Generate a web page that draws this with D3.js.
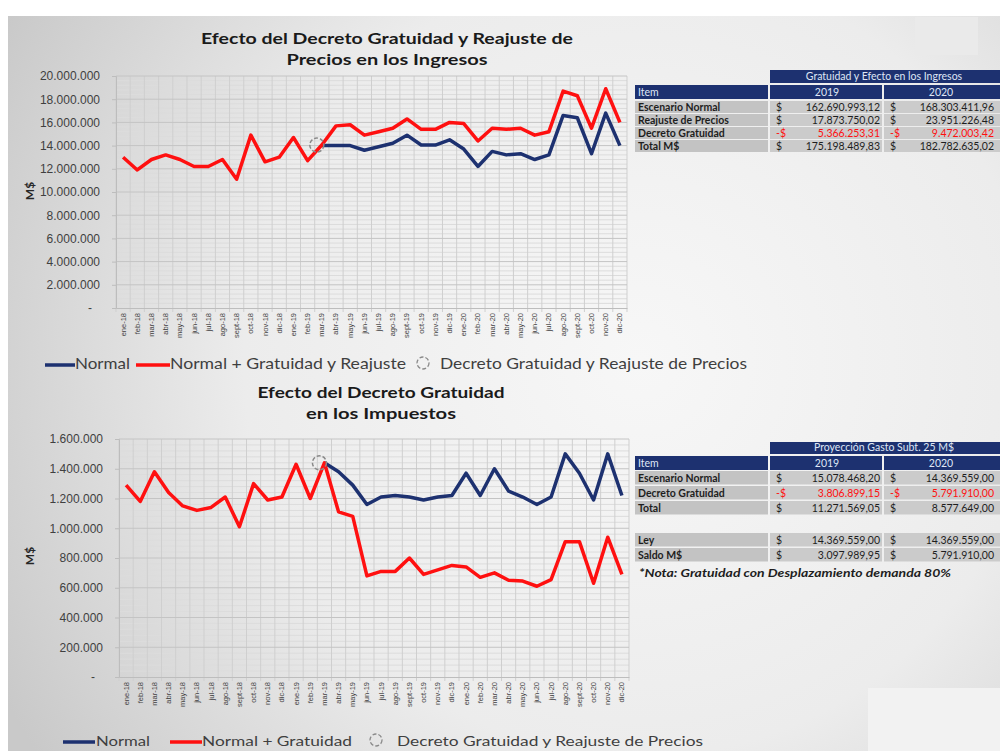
<!DOCTYPE html>
<html>
<head>
<meta charset="utf-8">
<script src="https://cdn.jsdelivr.net/npm/d3@7"></script>
<style>
  body { margin: 0; background: #fff; }
  svg { display: block; font-family: Lato, "Liberation Sans", sans-serif; }
</style>
</head>
<body>
<svg width="1000" height="751"></svg>
<script>
"use strict";
// months shown on both charts (Excel spanish short names)
const MONTHS = ["ene-18","feb-18","mar-18","abr-18","may-18","jun-18","jul-18","ago-18","sept-18","oct-18","nov-18","dic-18",
                "ene-19","feb-19","mar-19","abr-19","may-19","jun-19","jul-19","ago-19","sept-19","oct-19","nov-19","dic-19",
                "ene-20","feb-20","mar-20","abr-20","may-20","jun-20","jul-20","ago-20","sept-20","oct-20","nov-20","dic-20"];
const DECREE_MONTH = "mar-19";

// Ingresos, millions of $ (blue "Normal" only appears from mar-19, it sits under the red before)
const ingresosGratuidad = [13.0, 11.9, 12.8, 13.2, 12.8, 12.2, 12.2, 12.8, 11.1, 14.9, 12.6, 13.0,
                           14.7, 12.7, 14.05, 15.7, 15.8, 14.9, 15.2, 15.5, 16.3, 15.4, 15.4, 16.0,
                           15.9, 14.4, 15.5, 15.4, 15.5, 14.9, 15.2, 18.7, 18.3, 15.5, 18.9, 16.0];
const ingresosNormal = [null, null, null, null, null, null, null, null, null, null, null, null,
                        null, null, 14.0, 14.0, 14.0, 13.6, 13.9, 14.2, 14.9, 14.05, 14.05, 14.5,
                        13.7, 12.2, 13.5, 13.2, 13.3, 12.8, 13.2, 16.6, 16.4, 13.3, 16.8, 14.0];
const ingresosTicks = [0, 2e6, 4e6, 6e6, 8e6, 10e6, 12e6, 14e6, 16e6, 18e6, 20e6];

// Impuestos, thousands of $
const impuestosGratuidad = [1290, 1180, 1380, 1240, 1150, 1120, 1140, 1210, 1010, 1300, 1190, 1210,
                            1430, 1200, 1440, 1110, 1080, 680, 710, 710, 800, 690, 720, 750,
                            740, 670, 700, 650, 645, 610, 655, 910, 910, 630, 940, 690];
const impuestosNormal = [null, null, null, null, null, null, null, null, null, null, null, null,
                         null, null, 1440, 1380, 1290, 1160, 1210, 1220, 1210, 1190, 1210, 1220,
                         1370, 1220, 1400, 1250, 1210, 1160, 1210, 1500, 1370, 1190, 1500, 1220];
const impuestosTicks = [0, 2e5, 4e5, 6e5, 8e5, 10e5, 12e5, 14e5, 16e5];

// tables
const ingresosItems = ["Escenario Normal", "Reajuste de Precios", "Decreto Gratuidad", "Total M$"];
const ingresos2019 = [162690993.12, 17873750.02, -5366253.31, 175198489.83];
const ingresos2020 = [168303411.96, 23951226.48, -9472003.42, 182782635.02];
const gastoItems = ["Escenario Normal", "Decreto Gratuidad", "Total", "Ley", "Saldo M$"];
const gasto2019 = [15078468.20, -3806899.15, 11271569.05, 14369559.00, 3097989.95];
const gasto2020 = [14369559.00, -5791910.00, 8577649.00, 14369559.00, 5791910.00];

const NAVY = "#1d3170";
const RED = "#ff1010";
const TXT = "#3f3f3f";

const loc = d3.formatLocale({decimal: ",", thousands: ".", grouping: [3], currency: ["$", ""]});
const fmtMoney = loc.format(",.2f");
const fmtAxis = loc.format(",.0f");

const svg = d3.select("svg");

// slide background: gray radial gradient + white border of the photo
const defs = svg.append("defs");
const grad = defs.append("radialGradient").attr("id", "bg")
    .attr("gradientUnits", "userSpaceOnUse")
    .attr("cx", 640).attr("cy", 360).attr("r", 720);
grad.append("stop").attr("offset", 0).attr("stop-color", "#f7f7f7");
grad.append("stop").attr("offset", 0.55).attr("stop-color", "#ececec");
grad.append("stop").attr("offset", 1).attr("stop-color", "#c9c9c9");
svg.append("rect").attr("width", 1000).attr("height", 751).attr("fill", "#fff");
svg.append("rect").attr("x", 8).attr("y", 16).attr("width", 992).attr("height", 735).attr("fill", "url(#bg)");
svg.append("rect").attr("x", 915).attr("y", 17).attr("width", 63).attr("height", 38).attr("fill", "#eaeaea");
svg.append("rect").attr("x", 868).attr("y", 688).attr("width", 132).attr("height", 63).attr("fill", "#f2f2f2");

function drawChart(c) {
    const g = svg.append("g");
    const x = d3.scaleBand().domain(MONTHS).range([c.left, c.right]);
    const y = d3.scaleLinear().domain([0, c.max]).range([c.bottom, c.top]);
    const step = c.ticks[1] - c.ticks[0];

    // minor horizontal grid
    const minor = d3.range(0, c.max + 1, step / 5).filter(v => !c.ticks.includes(v));
    g.append("g").selectAll("line").data(minor).join("line")
        .attr("x1", c.left).attr("x2", c.right)
        .attr("y1", d => y(d)).attr("y2", d => y(d))
        .attr("stroke", "#dcdcdc").attr("stroke-width", 1);
    // vertical grid at category boundaries
    const bounds = MONTHS.map(m => x(m)).concat([c.right]);
    g.append("g").selectAll("line").data(bounds).join("line")
        .attr("x1", d => d).attr("x2", d => d)
        .attr("y1", c.top).attr("y2", c.bottom + 4)
        .attr("stroke", "#cfcfcf").attr("stroke-width", 1);
    // major horizontal grid
    g.append("g").selectAll("line").data(c.ticks.slice(1)).join("line")
        .attr("x1", c.left).attr("x2", c.right)
        .attr("y1", d => y(d)).attr("y2", d => y(d))
        .attr("stroke", "#c4c4c4").attr("stroke-width", 1);

    // y axis
    const yAxis = g.append("g").attr("transform", `translate(${c.left},0)`)
        .call(d3.axisLeft(y).tickValues(c.ticks).tickSize(4).tickPadding(12)
            .tickFormat(d => d === 0 ? "-" : fmtAxis(d)));
    yAxis.select(".domain").attr("stroke", "#bdbdbd");
    yAxis.selectAll(".tick line").attr("stroke", "#bdbdbd");
    yAxis.selectAll("text").attr("fill", TXT).attr("font-size", 12)
        .attr("dx", d => d === 0 ? -8 : 0);

    // x axis
    const xAxis = g.append("g").attr("transform", `translate(0,${c.bottom})`)
        .call(d3.axisBottom(x).tickSize(0));
    xAxis.select(".domain").attr("stroke", "#bdbdbd");
    xAxis.selectAll("text")
        .attr("transform", "rotate(-90)")
        .attr("text-anchor", "end")
        .attr("x", -5).attr("y", 0).attr("dy", "0.33em")
        .attr("font-size", 7.5).attr("fill", TXT);

    // y title
    g.append("text")
        .attr("transform", `translate(${c.ytitleX},${c.ytitleY}) rotate(-90)`)
        .attr("text-anchor", "middle").attr("font-weight", "bold")
        .attr("font-size", 12).attr("fill", "#262626")
        .text("M$");

    // chart title
    g.selectAll(".title").data(c.title).join("text")
        .attr("x", c.titleX).attr("y", (d, i) => c.titleY + i * 21)
        .attr("text-anchor", "middle").attr("font-weight", "bold")
        .attr("font-size", 15.5).attr("fill", "#1a1a1a")
        .attr("textLength", (d, i) => c.titleLen[i]).attr("lengthAdjust", "spacingAndGlyphs")
        .text(d => d);

    const line = d3.line()
        .defined(d => d != null)
        .x((d, i) => x(MONTHS[i]) + x.bandwidth() / 2)
        .y(d => y(d * c.unit));
    g.append("path").datum(c.normal)
        .attr("d", line).attr("fill", "none")
        .attr("stroke", NAVY).attr("stroke-width", 3.5).attr("stroke-linejoin", "round");
    g.append("path").datum(c.gratuidad)
        .attr("d", line).attr("fill", "none")
        .attr("stroke", RED).attr("stroke-width", 3.5).attr("stroke-linejoin", "round");

    // decree marker
    const di = MONTHS.indexOf(DECREE_MONTH);
    g.append("circle")
        .attr("cx", x(DECREE_MONTH) + x.bandwidth() / 2 - 5)
        .attr("cy", y(c.gratuidad[di] * c.unit))
        .attr("r", 7).attr("fill", "none")
        .attr("stroke", "#8a8a8a").attr("stroke-width", 1.5).attr("stroke-dasharray", "4,2");

    // legend
    const lg = g.append("g").attr("transform", `translate(0,${c.legendY})`);
    c.legend.forEach(it => {
        if (it.kind === "line") {
            lg.append("line").attr("x1", it.x).attr("x2", it.x + it.w).attr("y1", -4).attr("y2", -4)
                .attr("stroke", it.color).attr("stroke-width", 3.5);
        } else {
            lg.append("circle").attr("cx", it.x + it.w / 2).attr("cy", -6).attr("r", 6)
                .attr("fill", "none").attr("stroke", "#8a8a8a").attr("stroke-width", 1.3)
                .attr("stroke-dasharray", "4,2");
        }
        lg.append("text").attr("x", it.tx).attr("y", 0)
            .attr("font-size", c.legendSize).attr("fill", TXT)
            .attr("textLength", it.tlen).attr("lengthAdjust", "spacingAndGlyphs")
            .text(it.label);
    });
}

function drawTable(t) {
    const g = svg.append("g").attr("font-size", 10.5);
    const cols = [t.col1, t.col2];
    // header rows
    g.append("rect").attr("x", t.col1).attr("y", t.h1y).attr("width", 1000 - t.col1).attr("height", t.h1h).attr("fill", NAVY);
    g.append("text").attr("x", (t.col1 + t.col2 + t.colW) / 2).attr("y", t.h1y + t.h1h - 3)
        .attr("text-anchor", "middle").attr("fill", "#dfe6f5").text(t.title);
    g.append("rect").attr("x", t.left).attr("y", t.h2y).attr("width", t.labelW).attr("height", t.h2h).attr("fill", NAVY);
    g.append("text").attr("x", t.left + 3).attr("y", t.h2y + t.h2h - 3).attr("fill", "#dfe6f5").text("Item");
    ["2019", "2020"].forEach((yr, k) => {
        g.append("rect").attr("x", cols[k]).attr("y", t.h2y).attr("width", k ? 1000 - cols[k] : t.colW - 2).attr("height", t.h2h).attr("fill", NAVY);
        g.append("text").attr("x", cols[k] + t.colW / 2).attr("y", t.h2y + t.h2h - 3)
            .attr("text-anchor", "middle").attr("fill", "#dfe6f5").text(yr);
    });
    // body rows
    t.items.forEach((item, i) => {
        const ry = t.rowY[i];
        g.append("rect").attr("x", t.left).attr("y", ry).attr("width", t.labelW).attr("height", t.rowH - 1).attr("fill", "#c3c3c3");
        g.append("text").attr("x", t.left + 3).attr("y", ry + t.rowH - 3.5)
            .attr("font-weight", "bold").attr("fill", "#1e1e1e").text(item);
        [t.v2019[i], t.v2020[i]].forEach((v, k) => {
            const neg = v < 0;
            g.append("rect").attr("x", cols[k]).attr("y", ry).attr("width", k ? 1000 - cols[k] : t.colW - 2).attr("height", t.rowH - 1).attr("fill", "#cbcbcb");
            g.append("text").attr("x", cols[k] + 6).attr("y", ry + t.rowH - 3.5)
                .attr("fill", neg ? RED : "#1e1e1e").text(neg ? "-$" : "$");
            g.append("text").attr("x", cols[k] + t.colW - 4).attr("y", ry + t.rowH - 3.5)
                .attr("text-anchor", "end").attr("fill", neg ? RED : "#1e1e1e").text(fmtMoney(Math.abs(v)));
        });
    });
    if (t.note) {
        g.append("text").attr("x", t.left + 4).attr("y", t.noteY)
            .attr("font-weight", "bold").attr("font-style", "italic").attr("fill", "#1e1e1e")
            .attr("textLength", 312).attr("lengthAdjust", "spacingAndGlyphs")
            .text(t.note);
    }
}

drawChart({
    left: 116, right: 627, top: 76, bottom: 308, max: 20e6, unit: 1e6,
    ticks: ingresosTicks, normal: ingresosNormal, gratuidad: ingresosGratuidad,
    ytitleX: 34, ytitleY: 191,
    title: ["Efecto del Decreto Gratuidad y Reajuste de", "Precios en los Ingresos"],
    titleLen: [372, 201], titleX: 387, titleY: 44,
    legendY: 369, legendSize: 15,
    legend: [
        {kind: "line", x: 45, w: 30, color: NAVY, tx: 75, tlen: 55, label: "Normal"},
        {kind: "line", x: 136, w: 34, color: RED, tx: 170, tlen: 236, label: "Normal + Gratuidad y Reajuste"},
        {kind: "circle", x: 417, w: 12, tx: 440, tlen: 307, label: "Decreto Gratuidad y Reajuste de Precios"}
    ]
});

drawChart({
    left: 119, right: 629, top: 439, bottom: 677, max: 16e5, unit: 1e3,
    ticks: impuestosTicks, normal: impuestosNormal, gratuidad: impuestosGratuidad,
    ytitleX: 34, ytitleY: 556,
    title: ["Efecto del Decreto Gratuidad", "en los Impuestos"],
    titleLen: [247, 150], titleX: 381, titleY: 398,
    legendY: 746, legendSize: 14,
    legend: [
        {kind: "line", x: 63, w: 32, color: NAVY, tx: 96, tlen: 54, label: "Normal"},
        {kind: "line", x: 170, w: 32, color: RED, tx: 202, tlen: 150, label: "Normal + Gratuidad"},
        {kind: "circle", x: 370, w: 12, tx: 397, tlen: 306, label: "Decreto Gratuidad y Reajuste de Precios"}
    ]
});

drawTable({
    left: 635, labelW: 133, col1: 770, col2: 884, colW: 114,
    h1y: 70, h1h: 13, h2y: 85, h2h: 14,
    title: "Gratuidad y Efecto en los Ingresos",
    items: ingresosItems, v2019: ingresos2019, v2020: ingresos2020,
    rowY: [101, 114, 127, 140], rowH: 13
});

drawTable({
    left: 635, labelW: 133, col1: 770, col2: 884, colW: 114,
    h1y: 442, h1h: 12, h2y: 456, h2h: 14,
    title: "Proyección Gasto Subt. 25 M$",
    items: gastoItems, v2019: gasto2019, v2020: gasto2020,
    rowY: [471, 486, 501, 533, 548], rowH: 14.5,
    note: "*Nota: Gratuidad con Desplazamiento demanda 80%", noteY: 577
});
</script>
</body>
</html>
